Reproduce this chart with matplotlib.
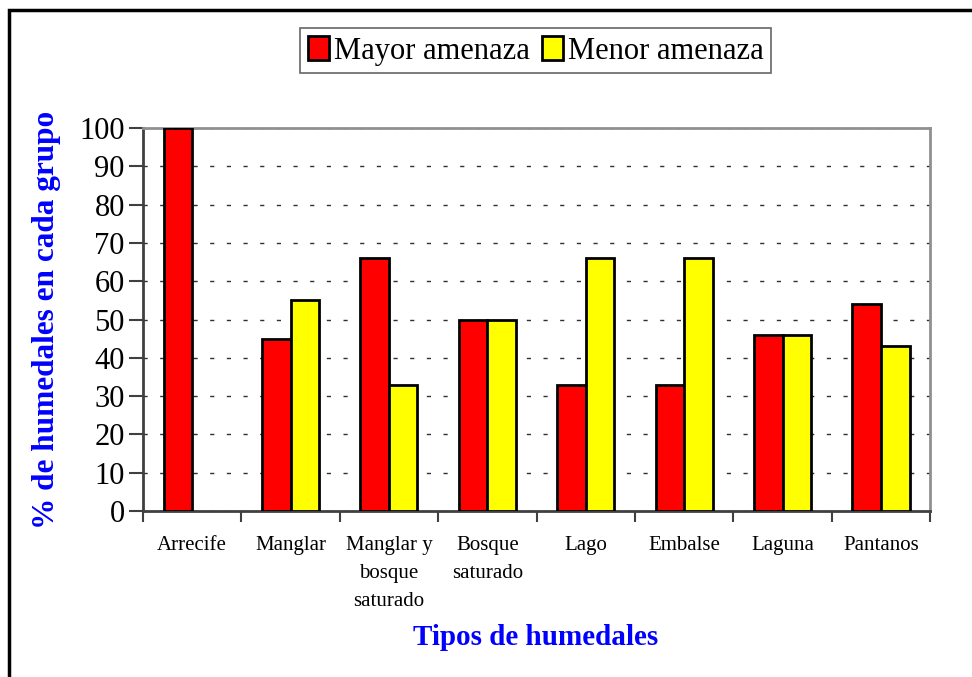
import matplotlib
matplotlib.use("Agg")
import matplotlib.pyplot as plt
from matplotlib.patches import Rectangle, Patch
import numpy as np

categories = ["Arrecife", "Manglar", "Manglar y\nbosque\nsaturado", "Bosque\nsaturado",
              "Lago", "Embalse", "Laguna", "Pantanos"]
mayor = [100, 45, 66, 50, 33, 33, 46, 54]
menor = [0, 55, 33, 50, 66, 66, 46, 43]
yticks = [0, 10, 20, 30, 40, 50, 60, 70, 80, 90, 100]

plt.rcParams['font.family'] = ['Liberation Serif', 'DejaVu Serif']

fig = plt.figure(figsize=(9.72, 6.77), dpi=100)
ax = fig.add_axes([0.147, 0.245, 0.810, 0.566])

x = np.arange(len(categories))
w = 0.29
b1 = ax.bar(x - w / 2, mayor, w, color='#ff0000', edgecolor='black', linewidth=2, zorder=3)
b2 = ax.bar(x + w / 2, menor, w, color='#ffff00', edgecolor='black', linewidth=2, zorder=3)
# empty bars are not drawn at all
for p in list(b1) + list(b2):
    if p.get_height() == 0:
        p.set_visible(False)

ax.set_xlim(-0.5, len(categories) - 0.5)
ax.set_ylim(0, 100)
ax.set_yticks(yticks)
ax.tick_params(axis='y', labelsize=22, length=10, width=1.5, color='#404040', pad=3, direction='out')

# category labels centered, ticks at boundaries
ax.set_xticks(x)
ax.set_xticklabels(categories, fontsize=15, linespacing=1.65)
ax.tick_params(axis='x', length=0, pad=18)
ax.set_xticks(np.arange(len(categories) + 1) - 0.5, minor=True)
ax.tick_params(axis='x', which='minor', length=8, width=1.5, color='#404040')

ax.grid(axis='y', linestyle=(0, (3, 9)), color='#303030', linewidth=1, zorder=0)

for side in ['left', 'bottom']:
    ax.spines[side].set_color('#404040')
    ax.spines[side].set_linewidth(2)
for side in ['top', 'right']:
    ax.spines[side].set_color('#909090')
    ax.spines[side].set_linewidth(2)

ax.set_ylabel("% de humedales en cada grupo", fontsize=22.5, fontweight='bold', color='#0000ff')
ax.yaxis.set_label_coords(-0.104, 0.5)
fig.text(0.551, 0.059, "Tipos de humedales", fontsize=21, fontweight='bold', color='#0000ff', ha='center', va='center')

handles = [Patch(facecolor='#ff0000', edgecolor='black', linewidth=2, label='Mayor amenaza'),
           Patch(facecolor='#ffff00', edgecolor='black', linewidth=2, label='Menor amenaza')]
leg = fig.legend(handles=handles, loc='center', bbox_to_anchor=(0.551, 0.925), ncol=2, fontsize=22, frameon=True,
                 fancybox=False, edgecolor='#404040', handlelength=0.7, handleheight=0.85,
                 handletextpad=0.15, columnspacing=0.4, borderpad=0.25, borderaxespad=0)
leg.get_frame().set_linewidth(1.2)

# outer chart border (left and top edges visible)
fig.patches.append(Rectangle((9 / 972, -0.05), 1.2, (677 - 10) / 677 + 0.05, transform=fig.transFigure,
                             fill=False, edgecolor='black', linewidth=2.5))

fig.savefig("out.png", dpi=100)
